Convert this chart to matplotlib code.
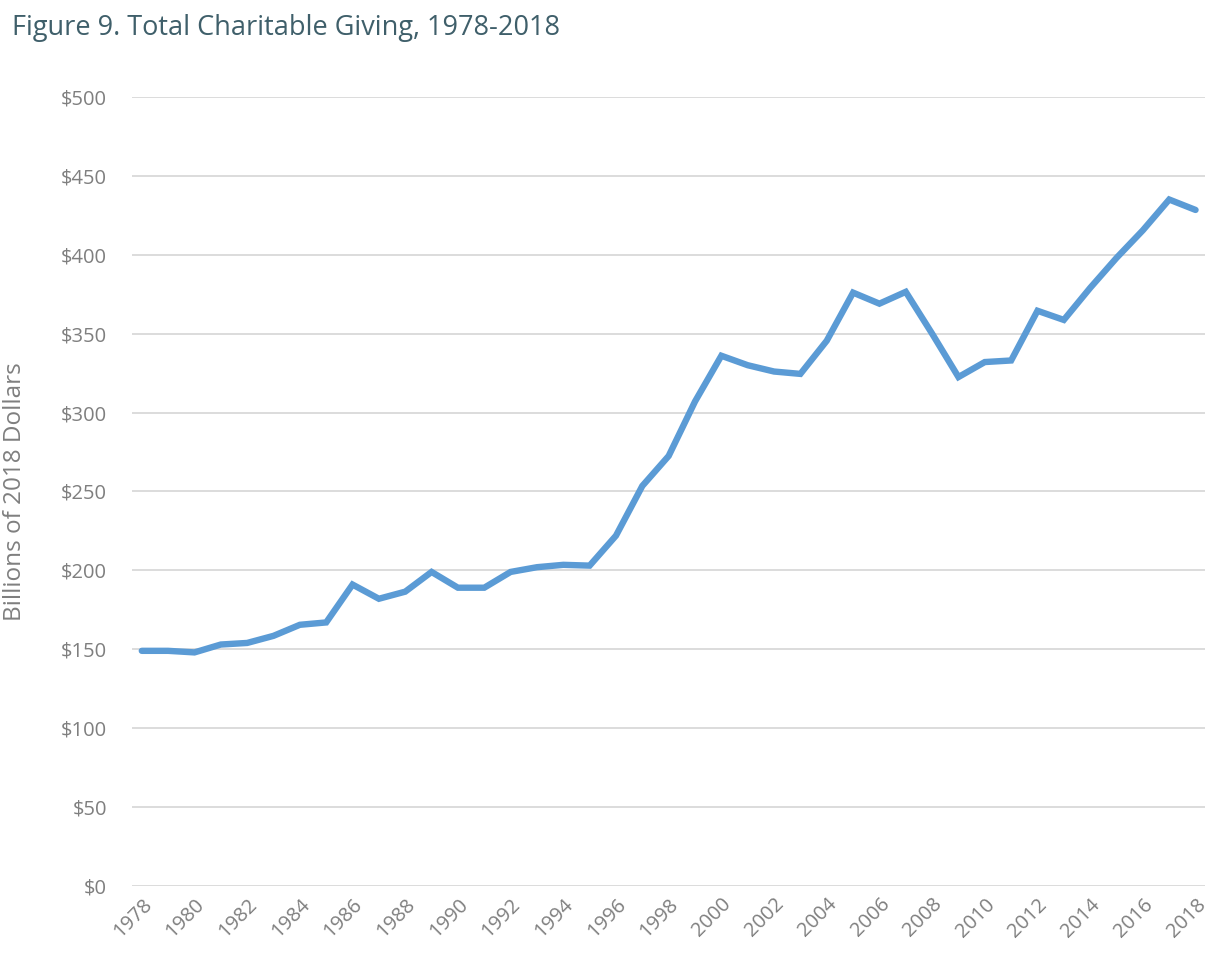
import matplotlib.pyplot as plt
from matplotlib.ticker import FuncFormatter

years = list(range(1978, 2019))
giving = [149, 149, 148, 153, 154, 158.5, 165.5, 167, 191, 182,
          186.5, 199, 189, 189, 199, 202, 203.5, 203, 222, 253.5,
          272.5, 307, 336, 330, 326, 324.5, 345.5, 376, 369, 376.5,
          350, 322.5, 332, 333, 364.5, 358.7, 379, 398, 415.5, 435, 428.4]
y_ticks = [0, 50, 100, 150, 200, 250, 300, 350, 400, 450, 500]
x_ticks = list(range(1978, 2019, 2))

plt.rcParams['font.family'] = ['Open Sans', 'DejaVu Sans']


def main():
    fig = plt.figure(figsize=(12.09, 9.58), dpi=100)
    ax = fig.add_axes([0.109, 0.0752, 0.8875, 0.8236])

    ax.plot(years, giving, color='#5b9bd5', linewidth=4.6,
            solid_capstyle='round', solid_joinstyle='miter', zorder=3)

    ax.set_xlim(1977.62, 2018.35)
    ax.set_ylim(0, 500)
    ax.set_yticks(y_ticks)
    ax.set_xticks(x_ticks)
    ax.yaxis.set_major_formatter(FuncFormatter(lambda v, p: f'${v:.0f}'))
    ax.grid(True, axis='y', color='#d9d9d9', linewidth=1.3)
    ax.set_axisbelow(True)
    for s in ax.spines.values():
        s.set_visible(False)
    ax.tick_params(length=0, colors='#7f7f7f', labelsize=14.5)
    ax.tick_params(axis='y', pad=18)
    ax.tick_params(axis='x', pad=6)
    for lbl in ax.get_xticklabels():
        lbl.set_rotation(45)
        lbl.set_ha('right')
        lbl.set_rotation_mode('anchor')

    ax.set_ylabel('Billions of 2018 Dollars', fontsize=17.5, color='#7f7f7f')
    ax.yaxis.set_label_coords(-0.098, 0.5)

    fig.text(0.01, 0.985, 'Figure 9. Total Charitable Giving, 1978-2018',
             fontsize=19.5, color='#3f5f6a', va='top', ha='left')

    fig.savefig('out.png', dpi=100)


if __name__ == '__main__':
    main()
